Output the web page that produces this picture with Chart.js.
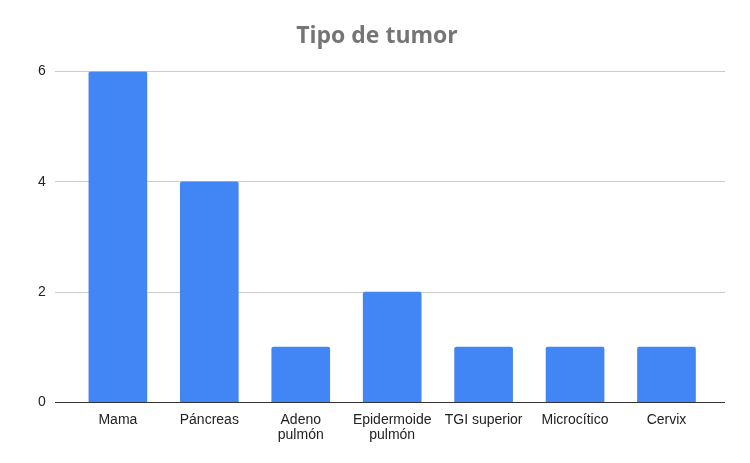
<!DOCTYPE html>
<html>
<head>
<meta charset="utf-8">
<script src="https://cdn.jsdelivr.net/npm/chart.js@4"></script>
<style>
  body { margin: 0; background: #fff; }
</style>
</head>
<body>
<canvas id="tumorChart" width="750" height="463"></canvas>
<script>
var categories = ["Mama", "Páncreas", ["Adeno", "pulmón"], ["Epidermoide", "pulmón"], "TGI superior", "Microcítico", "Cervix"];
var counts = [6, 4, 1, 2, 1, 1, 1];
var yTicks = [0, 2, 4, 6];

var points = counts.map(function(v, i){ return {x: i, y: v}; });

var ctx = document.getElementById("tumorChart").getContext("2d");
new Chart(ctx, {
    type: 'bar',
    data: {
        datasets: [{
            label: "Tipo de tumor",
            data: points,
            backgroundColor: "#4285F4",
            borderRadius: 2,
            borderSkipped: 'bottom',
            barThickness: 58
        }]
    },
    options: {
        responsive: false,
        animation: false,
        layout: { padding: { left: 29, right: 25, top: 0, bottom: 10 } },
        plugins: {
            legend: { display: false },
            tooltip: { enabled: false },
            title: {
                display: true,
                text: "Tipo de tumor",
                color: "#757575",
                font: { family: "Open Sans", size: 23, weight: 'bold' },
                padding: { top: 23, bottom: 21 }
            }
        },
        scales: {
            x: {
                type: 'linear',
                offset: false,
                min: -0.69,
                max: 6.64,
                afterBuildTicks: function(axis){
                    axis.ticks = categories.map(function(c, i){ return {value: i}; });
                },
                ticks: {
                    autoSkip: false,
                    maxRotation: 0,
                    padding: 10,
                    color: "#222",
                    font: { family: "Liberation Sans", size: 14, lineHeight: 1.1 },
                    callback: function(value){ return categories[value]; }
                },
                grid: { display: false, drawTicks: false },
                border: { display: false }
            },
            y: {
                min: 0,
                max: 6,
                afterBuildTicks: function(axis){
                    axis.ticks = yTicks.map(function(v){ return {value: v}; });
                },
                ticks: {
                    padding: 9,
                    color: "#222",
                    font: { family: "Liberation Sans", size: 14 }
                },
                grid: {
                    drawTicks: false,
                    color: function(c){ return c.tick && c.tick.value === 0 ? "#333" : "#ccc"; }
                },
                border: { display: false }
            }
        }
    }
});
</script>
</body>
</html>
